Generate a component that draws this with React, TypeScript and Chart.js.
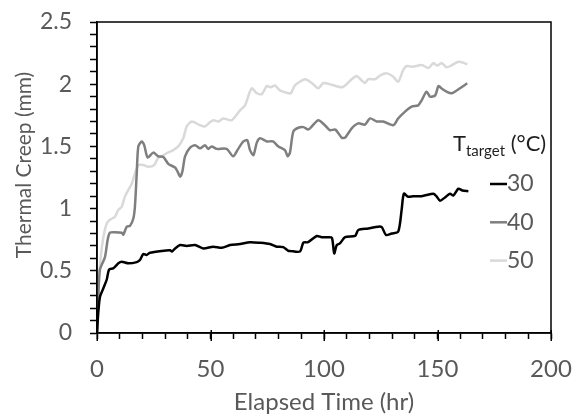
import React, { useEffect, useRef } from "react";
import { Chart, registerables } from "chart.js";

Chart.register(...registerables);

// ---- Data ----
const t30 = [0, 0.5, 1.3, 2.8, 4.3, 5.3, 7.2, 9.4, 10.9, 13.8, 17.5, 18.9, 20.4, 21.8, 23.3, 28.5, 32.2, 33, 34.4, 36.6, 39.5, 43.2, 46.8, 51.2, 55, 58.6, 63, 67.4, 71.8, 76.2, 79.2, 82, 84.3, 85, 89.4, 90.9, 93, 96.8, 99, 101.9, 103.5, 104.5, 105.6, 107, 109.3, 113.7, 115.1, 119.5, 123.9, 125.5, 127.3, 129.8, 132.7, 134.2, 135.2, 137.1, 139.3, 143, 148.2, 149.5, 151.1, 153.3, 155.5, 157, 159.2, 161, 163.6];
const v30 = [0, 0.15, 0.29, 0.36, 0.43, 0.51, 0.52, 0.56, 0.573, 0.56, 0.57, 0.587, 0.635, 0.627, 0.645, 0.66, 0.665, 0.655, 0.68, 0.707, 0.7, 0.707, 0.68, 0.694, 0.685, 0.707, 0.715, 0.73, 0.725, 0.715, 0.694, 0.69, 0.66, 0.66, 0.655, 0.726, 0.73, 0.78, 0.77, 0.77, 0.765, 0.64, 0.707, 0.72, 0.77, 0.78, 0.828, 0.84, 0.855, 0.85, 0.788, 0.8, 0.815, 0.99, 1.12, 1.095, 1.1, 1.1, 1.12, 1.1, 1.064, 1.09, 1.12, 1.105, 1.16, 1.145, 1.14];

const t40 = [0, 0.6, 1.3, 3.5, 4.7, 5.7, 7.9, 10.9, 11.6, 13.1, 14.5, 16, 16.7, 17.5, 18.2, 19.7, 20.8, 22.3, 24.8, 27, 29.2, 31.4, 34.4, 35.5, 36.6, 37.6, 38.8, 41, 43.2, 45.4, 47.6, 49, 50.5, 52.7, 57.1, 60, 62.2, 64.5, 66.2, 67.4, 68.9, 70.4, 71.8, 74.8, 77.5, 79.9, 82.8, 84, 85, 86.5, 88.7, 91, 93.1, 94.6, 97.5, 100.4, 102.6, 105, 107.8, 109.3, 112.2, 115.1, 118, 120.3, 123.2, 126, 130.5, 132.7, 135.7, 138.6, 141.5, 143, 145.2, 146.7, 149, 150.4, 151.8, 154, 156.3, 159.9, 163.1];
const v40 = [0, 0.3, 0.51, 0.61, 0.75, 0.806, 0.81, 0.806, 0.79, 0.855, 0.86, 0.92, 1.015, 1.28, 1.5, 1.54, 1.51, 1.41, 1.45, 1.42, 1.415, 1.36, 1.33, 1.297, 1.257, 1.297, 1.42, 1.49, 1.51, 1.485, 1.51, 1.48, 1.5, 1.48, 1.48, 1.42, 1.48, 1.54, 1.55, 1.47, 1.43, 1.53, 1.565, 1.54, 1.54, 1.5, 1.47, 1.42, 1.45, 1.62, 1.65, 1.655, 1.635, 1.66, 1.71, 1.67, 1.63, 1.635, 1.57, 1.57, 1.645, 1.685, 1.675, 1.725, 1.7, 1.7, 1.67, 1.725, 1.78, 1.82, 1.83, 1.87, 1.94, 1.9, 1.91, 1.985, 1.965, 1.94, 1.927, 1.967, 2.007];

const t50 = [0, 0.8, 1.6, 2.8, 4.3, 5.7, 7.9, 9.4, 10.9, 12.3, 13.8, 15.3, 16.7, 18.2, 20.4, 22.6, 25.2, 27, 28.5, 30.7, 33.6, 35.8, 38, 39.5, 41.7, 45.4, 47.6, 49.5, 51.2, 53.5, 55.6, 59.3, 63, 65.2, 68.1, 70.4, 72.6, 74.8, 76.5, 78.4, 80.6, 84.3, 85.5, 87.2, 91.6, 94.6, 97.5, 99.7, 103.4, 107.8, 109, 112.2, 114.4, 116.6, 118, 119.5, 122.5, 124.7, 127.6, 130.5, 132.7, 134.9, 136.4, 139, 143, 146, 148.2, 150, 151.8, 154, 156, 159.2, 161.4, 163.1];
const v50 = [0, 0.4, 0.6, 0.77, 0.88, 0.91, 0.935, 0.99, 1.015, 1.096, 1.15, 1.2, 1.28, 1.35, 1.35, 1.337, 1.35, 1.41, 1.42, 1.445, 1.47, 1.5, 1.565, 1.66, 1.7, 1.67, 1.66, 1.69, 1.71, 1.7, 1.725, 1.71, 1.79, 1.83, 1.967, 1.927, 1.92, 1.985, 1.975, 1.99, 1.95, 1.927, 1.93, 1.99, 2.04, 2.01, 1.967, 2.01, 1.995, 1.975, 1.985, 2.04, 2.066, 2.03, 2.01, 2.04, 2.04, 2.07, 2.087, 2.06, 2.02, 2.114, 2.146, 2.14, 2.154, 2.13, 2.168, 2.15, 2.17, 2.136, 2.15, 2.18, 2.173, 2.16];

const seriesLabels = ["30", "40", "50"];
const seriesColors = ["#000000", "#7f7f7f", "#d9d9d9"];
const xMin = 0, xMax = 200, xMajor = 50, xMinor = 10;
const yMin = 0, yMax = 2.5, yMajor = 0.5, yMinor = 0.1;
const xMajorTicks = [0, 50, 100, 150, 200];
const xTitle = "Elapsed Time (hr)";
const yTitle = "Thermal Creep (mm)";
const legendMain = "T";
const legendSub = "target";
const legendUnit = " (°C)";

const FONT = "Lato";
const TEXT = "#595959";

function isMajor(v: number, step: number) {
  const r = v / step;
  return Math.abs(r - Math.round(r)) < 1e-6;
}

export default function App() {
  const ref = useRef<HTMLCanvasElement | null>(null);

  useEffect(() => {
    const canvas = ref.current;
    if (!canvas) return;

    const mk = (ts: number[], vs: number[]) => ts.map((t, i) => ({ x: t, y: vs[i] }));
    const all = [mk(t30, v30), mk(t40, v40), mk(t50, v50)];

    const decor = {
      id: "decor",
      afterDraw(chart: any) {
        const { ctx, chartArea } = chart;
        const xs = chart.scales.x;
        ctx.save();
        // plot border box
        ctx.strokeStyle = "#000";
        ctx.lineWidth = 1.5;
        ctx.strokeRect(chartArea.left, chartArea.top, chartArea.right - chartArea.left, chartArea.bottom - chartArea.top);

        // longer major ticks on the x axis
        ctx.lineWidth = 1.5;
        xMajorTicks.forEach((v) => {
          const px = Math.round(xs.getPixelForValue(v)) + 0.25;
          ctx.beginPath();
          ctx.moveTo(px, chartArea.bottom - 3);
          ctx.lineTo(px, chartArea.bottom + 8);
          ctx.stroke();
        });

        // axis titles
        ctx.fillStyle = TEXT;
        ctx.textAlign = "center";
        ctx.textBaseline = "middle";
        ctx.font = `24px ${FONT}`;
        ctx.fillText(xTitle, (chartArea.left + chartArea.right) / 2, 402);
        ctx.save();
        ctx.translate(24, 165);
        ctx.rotate(-Math.PI / 2);
        ctx.font = `21px ${FONT}`;
        ctx.fillText(yTitle, 0, 0);
        ctx.restore();

        // legend title
        ctx.textAlign = "left";
        ctx.textBaseline = "alphabetic";
        ctx.fillStyle = "#1f1f1f";
        let x = 453;
        ctx.font = `22px ${FONT}`;
        ctx.fillText(legendMain, x, 151);
        x += ctx.measureText(legendMain).width;
        ctx.font = `15px ${FONT}`;
        ctx.fillText(legendSub, x, 156);
        x += ctx.measureText(legendSub).width;
        ctx.font = `22px ${FONT}`;
        ctx.fillText(legendUnit, x, 151);

        // legend items
        ctx.textBaseline = "middle";
        seriesLabels.forEach((lab, i) => {
          const y = 184 + i * 38.3;
          ctx.strokeStyle = seriesColors[i];
          ctx.lineWidth = 2.5;
          ctx.beginPath();
          ctx.moveTo(490, y);
          ctx.lineTo(507, y);
          ctx.stroke();
          ctx.fillStyle = TEXT;
          ctx.font = `23px ${FONT}`;
          ctx.fillText(lab, 507, y);
        });
        ctx.restore();
      },
    };

    const chart = new Chart(canvas, {
      type: "line",
      data: {
        datasets: all.map((d, i) => ({
          label: seriesLabels[i],
          data: d,
          borderColor: seriesColors[i],
          backgroundColor: seriesColors[i],
          borderWidth: 2.5,
          pointRadius: 0,
          tension: 0.25,
          fill: false,
        })),
      },
      options: {
        responsive: false,
        animation: false,
        devicePixelRatio: 1,
        layout: { padding: { top: 22, right: 21, left: 0, bottom: 0 } },
        plugins: { legend: { display: false }, tooltip: { enabled: false }, title: { display: false } },
        scales: {
          x: {
            type: "linear",
            min: xMin,
            max: xMax,
            afterFit: (s: any) => { s.height = 81; s.paddingLeft = 0; s.paddingRight = 0; },
            ticks: {
              stepSize: xMinor,
              autoSkip: false,
              maxRotation: 0,
              color: TEXT,
              font: { family: FONT, size: 24 },
              padding: 16,
              callback: (v: any) => (isMajor(Number(v), xMajor) ? String(Math.round(Number(v))) : ""),
            },
            grid: { drawOnChartArea: false, drawTicks: true, tickLength: 6, tickColor: "#000", tickWidth: 1.5 },
            border: { display: true, color: "#000", width: 1.5 },
          },
          y: {
            type: "linear",
            min: yMin,
            max: yMax,
            afterFit: (s: any) => { s.width = 97; s.paddingTop = 0; s.paddingBottom = 0; },
            ticks: {
              stepSize: yMinor,
              autoSkip: false,
              color: TEXT,
              font: { family: FONT, size: 23 },
              padding: 18,
              callback: (v: any) => {
                const n = Number(v);
                return isMajor(n, yMajor) ? String(Math.round(n * 10) / 10) : "";
              },
            },
            grid: { drawOnChartArea: false, drawTicks: true, tickLength: 7, tickColor: "#000", tickWidth: 1.5 },
            border: { display: true, color: "#000", width: 1.5 },
          },
        },
      },
      plugins: [decor],
    } as any);

    return () => chart.destroy();
  }, []);

  return (
    <div style={{ position: "fixed", left: 0, top: 0, width: 572, height: 414, background: "#fff" }}>
      <canvas ref={ref} width={572} height={414} style={{ display: "block" }} />
    </div>
  );
}
